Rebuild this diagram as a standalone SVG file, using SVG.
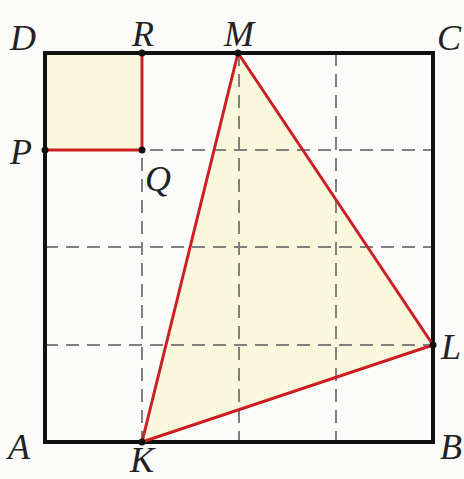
<svg xmlns="http://www.w3.org/2000/svg" width="464" height="479" viewBox="0 0 464 479">
<style>
.lbl{font-family:"Liberation Serif","Times New Roman",serif;font-style:italic;font-size:36px;fill:#222}
.grid{stroke:#808080;stroke-width:2;stroke-dasharray:13 8;fill:none}
.red{stroke:#cc1f24;stroke-width:3;fill:none;stroke-linejoin:round}
.dot{fill:#111}
</style>
<rect width="464" height="479" fill="#fbfcfa"/>
<g id="fills">
<rect x="45" y="53" width="97" height="97" fill="#f9f7dc"/>
<polygon points="142,442 433,345 238,53" fill="#f9f7dc"/>
</g>
<g id="grid">
<line class="grid" x1="142" y1="53" x2="142" y2="442"/>
<line class="grid" x1="239" y1="53" x2="239" y2="442"/>
<line class="grid" x1="336" y1="53" x2="336" y2="442"/>
<line class="grid" x1="45" y1="150" x2="433" y2="150"/>
<line class="grid" x1="45" y1="247" x2="433" y2="247"/>
<line class="grid" x1="45" y1="345" x2="433" y2="345"/>
</g>
<g id="square">
<rect x="45" y="53" width="388" height="389" fill="none" stroke="#111" stroke-width="4"/>
</g>
<g id="connectors">
<polyline class="red" points="142,53 142,150 45,150"/>
<polygon class="red" points="142,442 433,345 238,53"/>
</g>
<g id="points">
<circle class="dot" cx="142" cy="53" r="3.5"/>
<circle class="dot" cx="142" cy="150" r="3.5"/>
<circle class="dot" cx="45" cy="150" r="3.5"/>
<circle class="dot" cx="238" cy="53" r="3.5"/>
<circle class="dot" cx="433" cy="345" r="3.5"/>
<circle class="dot" cx="142" cy="442" r="3.5"/>
</g>
<g id="labels">
<text class="lbl" x="10" y="50">D</text>
<text class="lbl" x="143" y="46" text-anchor="middle">R</text>
<text class="lbl" x="239" y="46" text-anchor="middle">M</text>
<text class="lbl" x="437" y="50">C</text>
<text class="lbl" x="10" y="164">P</text>
<text class="lbl" x="145" y="191">Q</text>
<text class="lbl" x="441" y="359">L</text>
<text class="lbl" x="8" y="459">A</text>
<text class="lbl" x="440" y="459">B</text>
<text class="lbl" x="142" y="472" text-anchor="middle">K</text>
</g>
</svg>
